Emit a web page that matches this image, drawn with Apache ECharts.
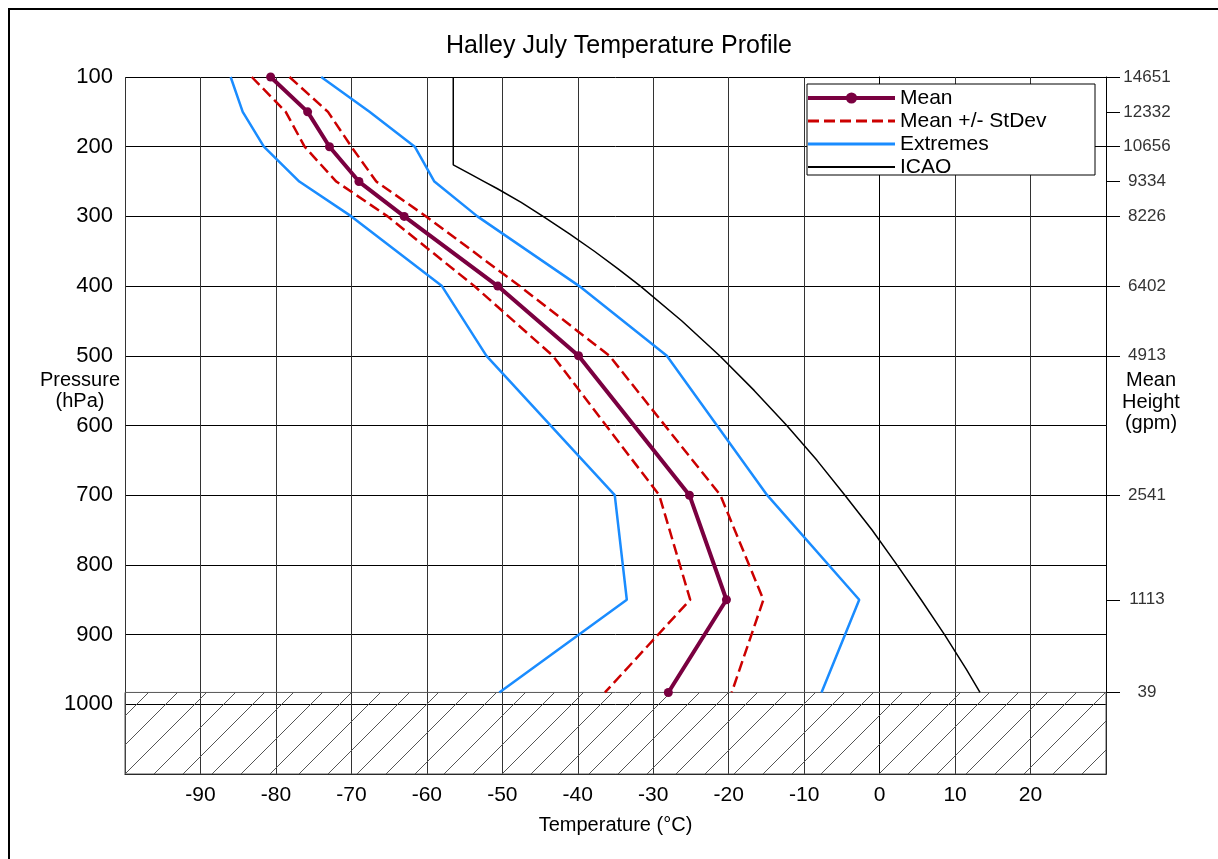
<!DOCTYPE html>
<html><head><meta charset="utf-8">
<script src="https://cdn.jsdelivr.net/npm/echarts@6/dist/echarts.min.js"></script>
<style>html,body{margin:0;padding:0;background:#fff}#c{width:1218px;height:859px}</style>
</head><body><div id="c"></div>
<script>
// ---- data ----
const pressures = [100, 150, 200, 250, 300, 400, 500, 700, 850, 983];
const meanT   = [-80.7, -75.8, -72.9, -69.0, -63.0, -50.6, -39.9, -25.2, -20.3, -28.0];
const stdHiT  = [-78.2, -73.1, -70.0, -66.7, -60.1, -47.7, -35.8, -21.1, -15.4, -19.6];
const stdLoT  = [-83.2, -78.7, -76.2, -72.0, -65.2, -53.7, -43.3, -29.2, -25.1, -36.4];
const extMaxT = [-74.0, -67.6, -61.6, -59.0, -53.3, -39.8, -28.2, -14.9, -2.7, -7.7];
const extMinT = [-86.0, -84.4, -81.6, -76.9, -70.0, -58.0, -52.1, -35.1, -33.5, -50.4];
const icaoP = [100, 226, 240, 250, 260, 280, 300, 325, 350, 375, 400, 450, 500, 550, 600, 650, 700, 750, 800, 850, 900, 950, 983];
const icaoT = [-56.5, -56.5, -54.1, -52.4, -50.7, -47.5, -44.6, -41.1, -37.8, -34.7, -31.7, -26.2, -21.2, -16.6, -12.3, -8.3, -4.6, -1.0, 2.3, 5.5, 8.6, 11.5, 13.3];
const heightP = [100, 150, 200, 250, 300, 400, 500, 700, 850, 983];
const heightLabels = ['14651', '12332', '10656', '9334', '8226', '6402', '4913', '2541', '1113', '39'];
const surfaceP = 983;
const seriesNames = ['Mean', 'Mean +/- StDev', 'Extremes', 'ICAO'];

const pairs = (ts, ps) => ts.map((t, i) => [t, ps[i]]);
const FONT = '"Liberation Sans", Arial, sans-serif';

// hatch pattern for the below-ground region
const pat = document.createElement('canvas');
pat.width = 29; pat.height = 29;
const pc = pat.getContext('2d');
pc.strokeStyle = '#555'; pc.lineWidth = 1;
pc.beginPath(); pc.moveTo(-1, 30); pc.lineTo(30, -1); pc.stroke();

const chart = echarts.init(document.getElementById('c'), null, {renderer: 'canvas'});
chart.setOption({
  backgroundColor: '#fff',
  animation: false,
  title: {
    text: 'Halley July Temperature Profile',
    left: 614, top: 29, textAlign: 'center',
    textStyle: {fontFamily: FONT, fontSize: 25, fontWeight: 'normal', color: '#000'}
  },
  grid: {left: 125, top: 77, width: 981, height: 697, containLabel: false, outerBoundsMode: 'none'},
  legend: {
    orient: 'vertical', left: 806, top: 84, padding: [3, 0, 0, 0],
    itemWidth: 87, itemHeight: 14, itemGap: 1, z: 20,
    textStyle: {fontFamily: FONT, fontSize: 21, lineHeight: 22, color: '#000'},
    data: [
      {name: seriesNames[0], lineStyle: {width: 4}},
      {name: seriesNames[1], lineStyle: {width: 3}, itemStyle: {opacity: 0}},
      {name: seriesNames[2], lineStyle: {width: 3}, itemStyle: {opacity: 0}},
      {name: seriesNames[3], lineStyle: {width: 2}, itemStyle: {opacity: 0}}
    ]
  },
  xAxis: {
    type: 'value', min: -100, max: 30, interval: 10,
    axisLine: {show: true, lineStyle: {color: '#000', width: 1}},
    axisTick: {show: false},
    splitLine: {show: true, lineStyle: {color: '#333', width: 1}},
    axisLabel: {
      fontFamily: FONT, fontSize: 21, color: '#000', margin: 11,
      formatter: v => (v <= -100 || v >= 30) ? '' : String(v)
    },
    name: 'Temperature (°C)', nameLocation: 'middle', nameGap: 41,
    nameTextStyle: {fontFamily: FONT, fontSize: 20, color: '#000'}
  },
  yAxis: [{
    type: 'value', inverse: true, min: 100, max: 1100, interval: 100, position: 'left',
    axisLine: {show: true, lineStyle: {color: '#000', width: 1}},
    axisTick: {show: false},
    splitLine: {show: true, lineStyle: {color: '#000', width: 1}},
    axisLabel: {
      fontFamily: FONT, fontSize: 22, color: '#000', margin: 12, padding: [4, 0, 0, 0],
      formatter: v => v > 1000 ? '' : String(v)
    }
  }, {
    type: 'value', inverse: true, min: 100, max: 1100, position: 'right',
    axisLine: {show: true, lineStyle: {color: '#000', width: 1}},
    splitLine: {show: false},
    axisTick: {show: true, inside: false, length: 14, customValues: heightP, lineStyle: {color: '#000', width: 1}},
    axisLabel: {
      customValues: heightP, fontFamily: FONT, fontSize: 17, color: '#333',
      align: 'center', margin: 41, padding: [5, 0, 0, 0],
      formatter: v => { const i = heightP.indexOf(v); return i >= 0 ? heightLabels[i] : ''; }
    }
  }],
  graphic: [
    {type: 'rect', z: 10, silent: true, shape: {x: 807, y: 84, width: 288, height: 91},
     style: {fill: '#fff', stroke: '#000', lineWidth: 1}},
    {type: 'rect', z: 100, silent: true, shape: {x: 9, y: 9, width: 1400, height: 1000},
     style: {fill: 'none', stroke: '#000', lineWidth: 2}},
    {type: 'text', z: 30, style: {text: 'Pressure\n(hPa)', x: 80, y: 391, align: 'center', verticalAlign: 'middle',
      fontFamily: FONT, fontSize: 20, lineHeight: 21, fill: '#000'}},
    {type: 'text', z: 30, style: {text: 'Mean\nHeight\n(gpm)', x: 1151, y: 402, align: 'center', verticalAlign: 'middle',
      fontFamily: FONT, fontSize: 20, lineHeight: 21.5, fill: '#000'}}
  ],
  series: [
    {name: 'ICAO', type: 'line', data: pairs(icaoT, icaoP), showSymbol: false, symbol: 'none',
     lineStyle: {color: '#000', width: 1.5}, itemStyle: {color: '#000'}, z: 2,
     markArea: {silent: true,
       itemStyle: {color: {image: pat, repeat: 'repeat'}, borderColor: '#555', borderWidth: 1},
       data: [[{yAxis: surfaceP}, {yAxis: 1100}]]}},
    {name: 'Extremes', type: 'line', data: pairs(extMinT, pressures), symbol: 'none',
     lineStyle: {color: '#1a8cff', width: 2.5}, itemStyle: {color: '#1a8cff'}, z: 3},
    {name: 'Extremes', type: 'line', data: pairs(extMaxT, pressures), symbol: 'none',
     lineStyle: {color: '#1a8cff', width: 2.5}, itemStyle: {color: '#1a8cff'}, z: 3},
    {name: 'Mean +/- StDev', type: 'line', data: pairs(stdLoT, pressures), symbol: 'none',
     lineStyle: {color: '#cc0000', width: 2.5, type: [11, 5]}, itemStyle: {color: '#cc0000'}, z: 4},
    {name: 'Mean +/- StDev', type: 'line', data: pairs(stdHiT, pressures), symbol: 'none',
     lineStyle: {color: '#cc0000', width: 2.5, type: [11, 5]}, itemStyle: {color: '#cc0000'}, z: 4},
    {name: 'Mean', type: 'line', data: pairs(meanT, pressures), symbol: 'circle', symbolSize: 9, showSymbol: true,
     lineStyle: {color: '#7a0040', width: 4}, itemStyle: {color: '#7a0040'}, z: 5}
  ]
});
</script>
</body></html>
